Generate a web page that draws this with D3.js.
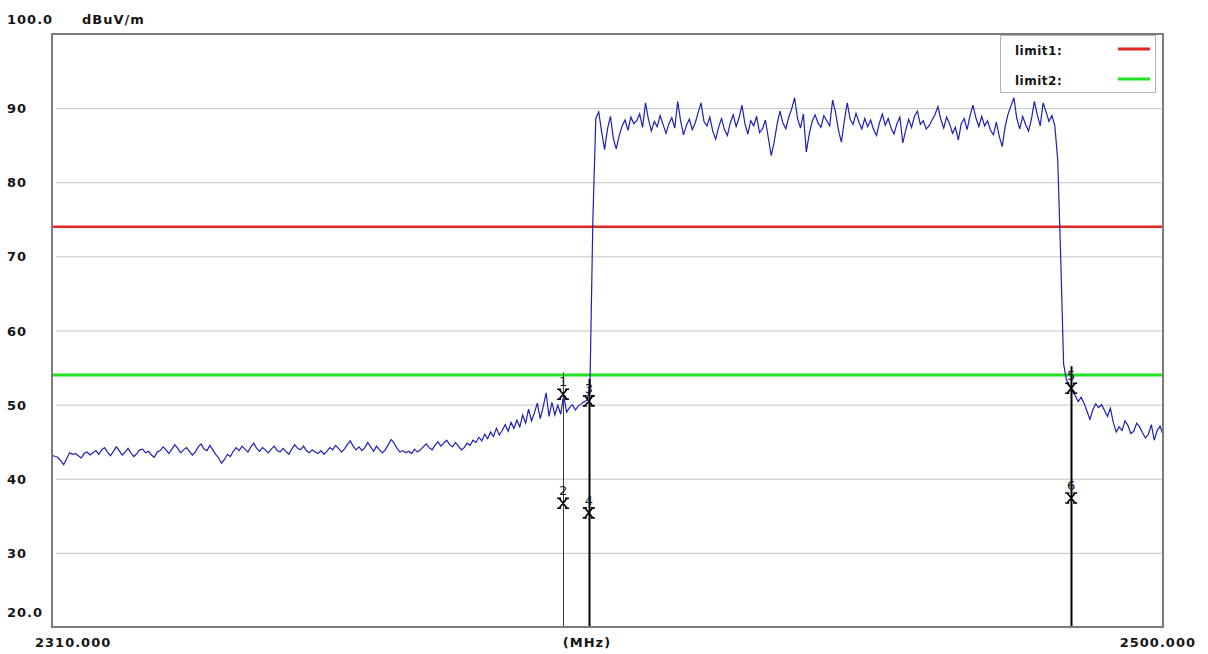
<!DOCTYPE html>
<html>
<head>
<meta charset="utf-8">
<script src="https://cdn.jsdelivr.net/npm/d3@7"></script>
<style>
  body { margin: 0; background: #fff; }
  svg text { font-family: "DejaVu Sans", "Liberation Sans", Arial, sans-serif; font-weight: bold; fill: #151515; }
</style>
</head>
<body>
<svg></svg>
<script>
// sweep: 2310 MHz to 2500 MHz, one reading every 0.5 MHz
var sweepStart = 2310;
var sweepStep = 0.5;
var levels = [
  43.2, 43.0, 42.9, 42.4, 41.9, 42.7, 43.5, 43.3, 43.4, 43.1, 42.8, 43.4, 43.6, 43.2, 43.5, 43.8, 43.3, 43.9, 44.2, 43.6, // 2310
  43.1, 43.7, 44.3, 43.8, 43.2, 43.6, 44.1, 43.5, 43.0, 43.4, 43.9, 44.0, 43.5, 43.7, 43.2, 42.9, 43.6, 43.8, 44.3, 43.9, // 2320
  43.4, 44.0, 44.6, 44.1, 43.5, 43.9, 44.2, 43.7, 43.2, 43.6, 44.3, 44.7, 44.0, 43.8, 44.5, 43.9, 43.3, 42.8, 42.1, 42.6, // 2330
  43.3, 43.0, 43.7, 44.2, 43.8, 44.4, 44.0, 43.6, 44.3, 44.8, 44.1, 43.7, 44.2, 43.9, 43.5, 44.0, 44.4, 43.8, 43.6, 44.1, // 2340
  43.7, 43.3, 44.0, 44.6, 44.1, 43.9, 44.4, 43.8, 43.5, 43.9, 43.6, 43.4, 43.8, 43.3, 43.7, 44.2, 43.9, 44.5, 44.1, 43.6, // 2350
  44.0, 44.6, 45.1, 44.4, 43.9, 44.3, 43.8, 44.2, 44.9, 44.3, 43.7, 44.4, 43.9, 43.5, 43.9, 44.6, 45.3, 44.8, 44.1, 43.6, // 2360
  43.8, 43.5, 43.7, 43.4, 44.0, 43.6, 43.9, 44.3, 44.7, 44.2, 43.9, 44.5, 45.0, 44.4, 44.8, 45.2, 44.6, 44.3, 44.9, 44.4, // 2370
  43.9, 44.2, 44.8, 44.5, 45.2, 44.9, 45.6, 45.1, 46.0, 45.4, 46.3, 45.7, 46.8, 45.9, 46.5, 47.3, 46.4, 47.6, 46.8, 47.9, // 2380
  47.0, 48.6, 47.5, 49.4, 47.8, 48.9, 50.2, 48.1, 49.7, 51.6, 48.4, 50.3, 48.6, 49.9, 48.7, 51.3, 49.0, 49.6, 50.0, 49.3, // 2390
  49.8, 50.1, 50.4, 50.6, 52.5, 75.0, 88.6, 89.5, 86.8, 84.4, 87.2, 88.9, 85.9, 84.5, 86.3, 87.6, 88.4, 87.0, 88.8, 87.9, // 2400
  88.3, 89.2, 87.4, 90.7, 88.5, 86.9, 88.2, 87.5, 89.0, 87.8, 86.6, 87.9, 88.7, 87.3, 90.9, 88.3, 86.4, 87.7, 88.5, 87.1, // 2410
  88.0, 89.4, 90.7, 88.2, 87.6, 88.8, 86.9, 85.8, 87.4, 88.6, 87.1, 86.3, 88.0, 89.1, 87.5, 88.7, 90.4, 87.9, 86.5, 88.3, // 2420
  87.6, 88.9, 86.7, 87.2, 88.4, 86.0, 83.6, 85.4, 87.8, 89.6, 88.0, 87.2, 88.8, 89.9, 91.4, 88.6, 87.3, 89.2, 84.1, 86.5, // 2430
  88.2, 89.1, 88.0, 87.4, 89.0, 88.3, 87.6, 91.1, 89.4, 87.0, 85.4, 88.3, 90.7, 88.5, 87.8, 89.3, 88.1, 87.2, 88.6, 87.5, // 2440
  88.4, 87.1, 86.3, 88.0, 89.2, 87.7, 88.6, 87.3, 86.5, 87.9, 88.8, 85.3, 87.0, 88.5, 87.4, 88.9, 89.6, 87.8, 88.3, 87.2, // 2450
  87.6, 88.4, 89.1, 90.2, 88.5, 87.3, 88.8, 87.9, 86.6, 87.4, 85.7, 87.9, 88.6, 87.1, 89.0, 90.4, 88.7, 87.5, 88.9, 87.6, // 2460
  88.3, 87.0, 86.4, 88.1, 86.2, 84.8, 87.5, 89.2, 90.3, 91.4, 88.6, 87.2, 88.9, 87.8, 86.9, 88.5, 90.9, 89.1, 87.6, 90.7, // 2470
  89.5, 88.2, 89.0, 87.6, 83.0, 70.0, 55.5, 53.3, 52.6, 51.8, 51.2, 50.4, 51.0, 50.2, 49.1, 48.0, 49.3, 50.1, 49.6, 50.0, // 2480
  49.2, 48.4, 49.5, 47.6, 46.3, 47.0, 46.5, 47.8, 47.2, 46.1, 46.4, 47.5, 47.0, 46.2, 45.5, 46.0, 47.3, 45.2, 46.5, 47.1, // 2490
  45.9 // 2500
];

var limitNames = ["limit1:", "limit2:"];
var limitValues = [74, 54];
var limitColors = ["#e12626", "#22e022"];

var markerIds = ["1", "2", "3", "4", "5", "6"];
var markerFreqs = [2397.4, 2397.4, 2401.8, 2401.8, 2484.3, 2484.3];
var markerLevels = [51.4, 36.7, 50.5, 35.4, 52.2, 37.4];

var yTickValues = [100, 90, 80, 70, 60, 50, 40, 30, 20];
var yTickLabels = ["100.0", "90", "80", "70", "60", "50", "40", "30", "20.0"];
var xStartLabel = "2310.000";
var xEndLabel = "2500.000";
var xUnit = "(MHz)";
var yUnit = "dBuV/m";

var width = 1208, height = 654;

var x = d3.scaleLinear().domain([2310, 2500]).range([52, 1163]);
var y = d3.scaleLinear().domain([20, 100]).range([627, 34]);

var svg = d3.select("svg")
  .attr("width", width)
  .attr("height", height);

// horizontal grid
svg.append("g").attr("class", "grid")
  .selectAll("line")
  .data(yTickValues.slice(1, -1))
  .enter()
  .append("line")
  .attr("x1", x.range()[0] + 4)
  .attr("x2", x.range()[1])
  .attr("y1", function(d) { return y(d) + 0.5; })
  .attr("y2", function(d) { return y(d) + 0.5; })
  .attr("stroke", "#c4c4c4")
  .attr("stroke-width", 1);

// y tick labels
svg.append("g").attr("class", "y-labels")
  .selectAll("text")
  .data(yTickValues)
  .enter()
  .append("text")
  .attr("x", 7)
  .attr("y", function(d, i) {
    return (i === 0 || i === yTickValues.length - 1) ? y(d) - 10 : y(d) + 5;
  })
  .attr("font-size", "13px")
  .attr("letter-spacing", "1px")
  .text(function(d, i) { return yTickLabels[i]; });

svg.append("text")
  .attr("x", 82).attr("y", 24)
  .attr("font-size", "13px")
  .attr("letter-spacing", "1px")
  .text(yUnit);

// x labels
svg.append("text")
  .attr("x", 35).attr("y", 647)
  .attr("font-size", "13px").attr("letter-spacing", "1px")
  .text(xStartLabel);
svg.append("text")
  .attr("x", 1196).attr("y", 647)
  .attr("text-anchor", "end")
  .attr("font-size", "13px").attr("letter-spacing", "1px")
  .text(xEndLabel);
svg.append("text")
  .attr("x", 587).attr("y", 647)
  .attr("text-anchor", "middle")
  .attr("font-size", "13px").attr("letter-spacing", "1px")
  .text(xUnit);

// limit lines
svg.append("g").attr("class", "limits")
  .selectAll("line")
  .data(limitValues)
  .enter()
  .append("line")
  .attr("x1", x.range()[0])
  .attr("x2", x.range()[1])
  .attr("y1", function(d) { return y(d); })
  .attr("y2", function(d) { return y(d); })
  .attr("stroke", function(d, i) { return limitColors[i]; })
  .attr("stroke-width", function(d, i) { return i === 0 ? 2.5 : 3; });

// trace
var line = d3.line()
  .x(function(d, i) { return x(sweepStart + i * sweepStep); })
  .y(function(d) { return y(d); });

svg.append("path")
  .datum(levels)
  .attr("d", line)
  .attr("fill", "none")
  .attr("stroke", "#1e1eb8")
  .attr("stroke-width", 1.2);

// markers: vertical line per pair, from upper label down to the floor
var pairs = [0, 2, 4];
svg.append("g").attr("class", "marker-lines")
  .selectAll("line")
  .data(pairs)
  .enter()
  .append("line")
  .attr("x1", function(i) { return Math.round(x(markerFreqs[i])) + 0.5; })
  .attr("x2", function(i) { return Math.round(x(markerFreqs[i])) + 0.5; })
  .attr("y1", function(i) { return y(markerLevels[i]) - 22; })
  .attr("y2", y.range()[0])
  .attr("stroke", function(i) { return i === 0 ? "#3a3a3a" : "#000"; })
  .attr("stroke-width", function(i) { return i === 0 ? 1 : 2; });

var mk = svg.append("g").attr("class", "markers")
  .selectAll("g")
  .data(markerIds)
  .enter()
  .append("g")
  .attr("transform", function(d, i) {
    return "translate(" + x(markerFreqs[i]) + "," + y(markerLevels[i]) + ")";
  });

mk.append("path")
  .attr("d", "M-4,-5L4,5M4,-5L-4,5M-6,-5h4M2,-5h4M-6,5h4M2,5h4")
  .attr("fill", "none")
  .attr("stroke", "#000")
  .attr("stroke-width", 1.6);

mk.append("text")
  .attr("x", 0)
  .attr("y", -8)
  .attr("text-anchor", "middle")
  .attr("font-size", "13px")
  .style("font-weight", "normal")
  .text(function(d) { return d; });

// frame
svg.append("rect")
  .attr("x", x.range()[0])
  .attr("y", y.range()[1])
  .attr("width", x.range()[1] - x.range()[0])
  .attr("height", y.range()[0] - y.range()[1])
  .attr("fill", "none")
  .attr("stroke", "#7c7c7c")
  .attr("stroke-width", 2);

// legend
var legend = svg.append("g").attr("class", "legend");
legend.append("rect")
  .attr("x", 1000.5).attr("y", 35.5)
  .attr("width", 155).attr("height", 57)
  .attr("fill", "#fff")
  .attr("stroke", "#b4b4b4");

var item = legend.selectAll("g.item")
  .data(limitNames)
  .enter()
  .append("g")
  .attr("class", "item")
  .attr("transform", function(d, i) { return "translate(0," + (i * 30) + ")"; });

item.append("text")
  .attr("x", 1015).attr("y", 55)
  .attr("font-size", "12px")
  .attr("letter-spacing", "0.5px")
  .text(function(d) { return d; });

item.append("line")
  .attr("x1", 1118).attr("x2", 1150)
  .attr("y1", 49).attr("y2", 49)
  .attr("stroke", function(d, i) { return limitColors[i]; })
  .attr("stroke-width", 3);
</script>
</body>
</html>
